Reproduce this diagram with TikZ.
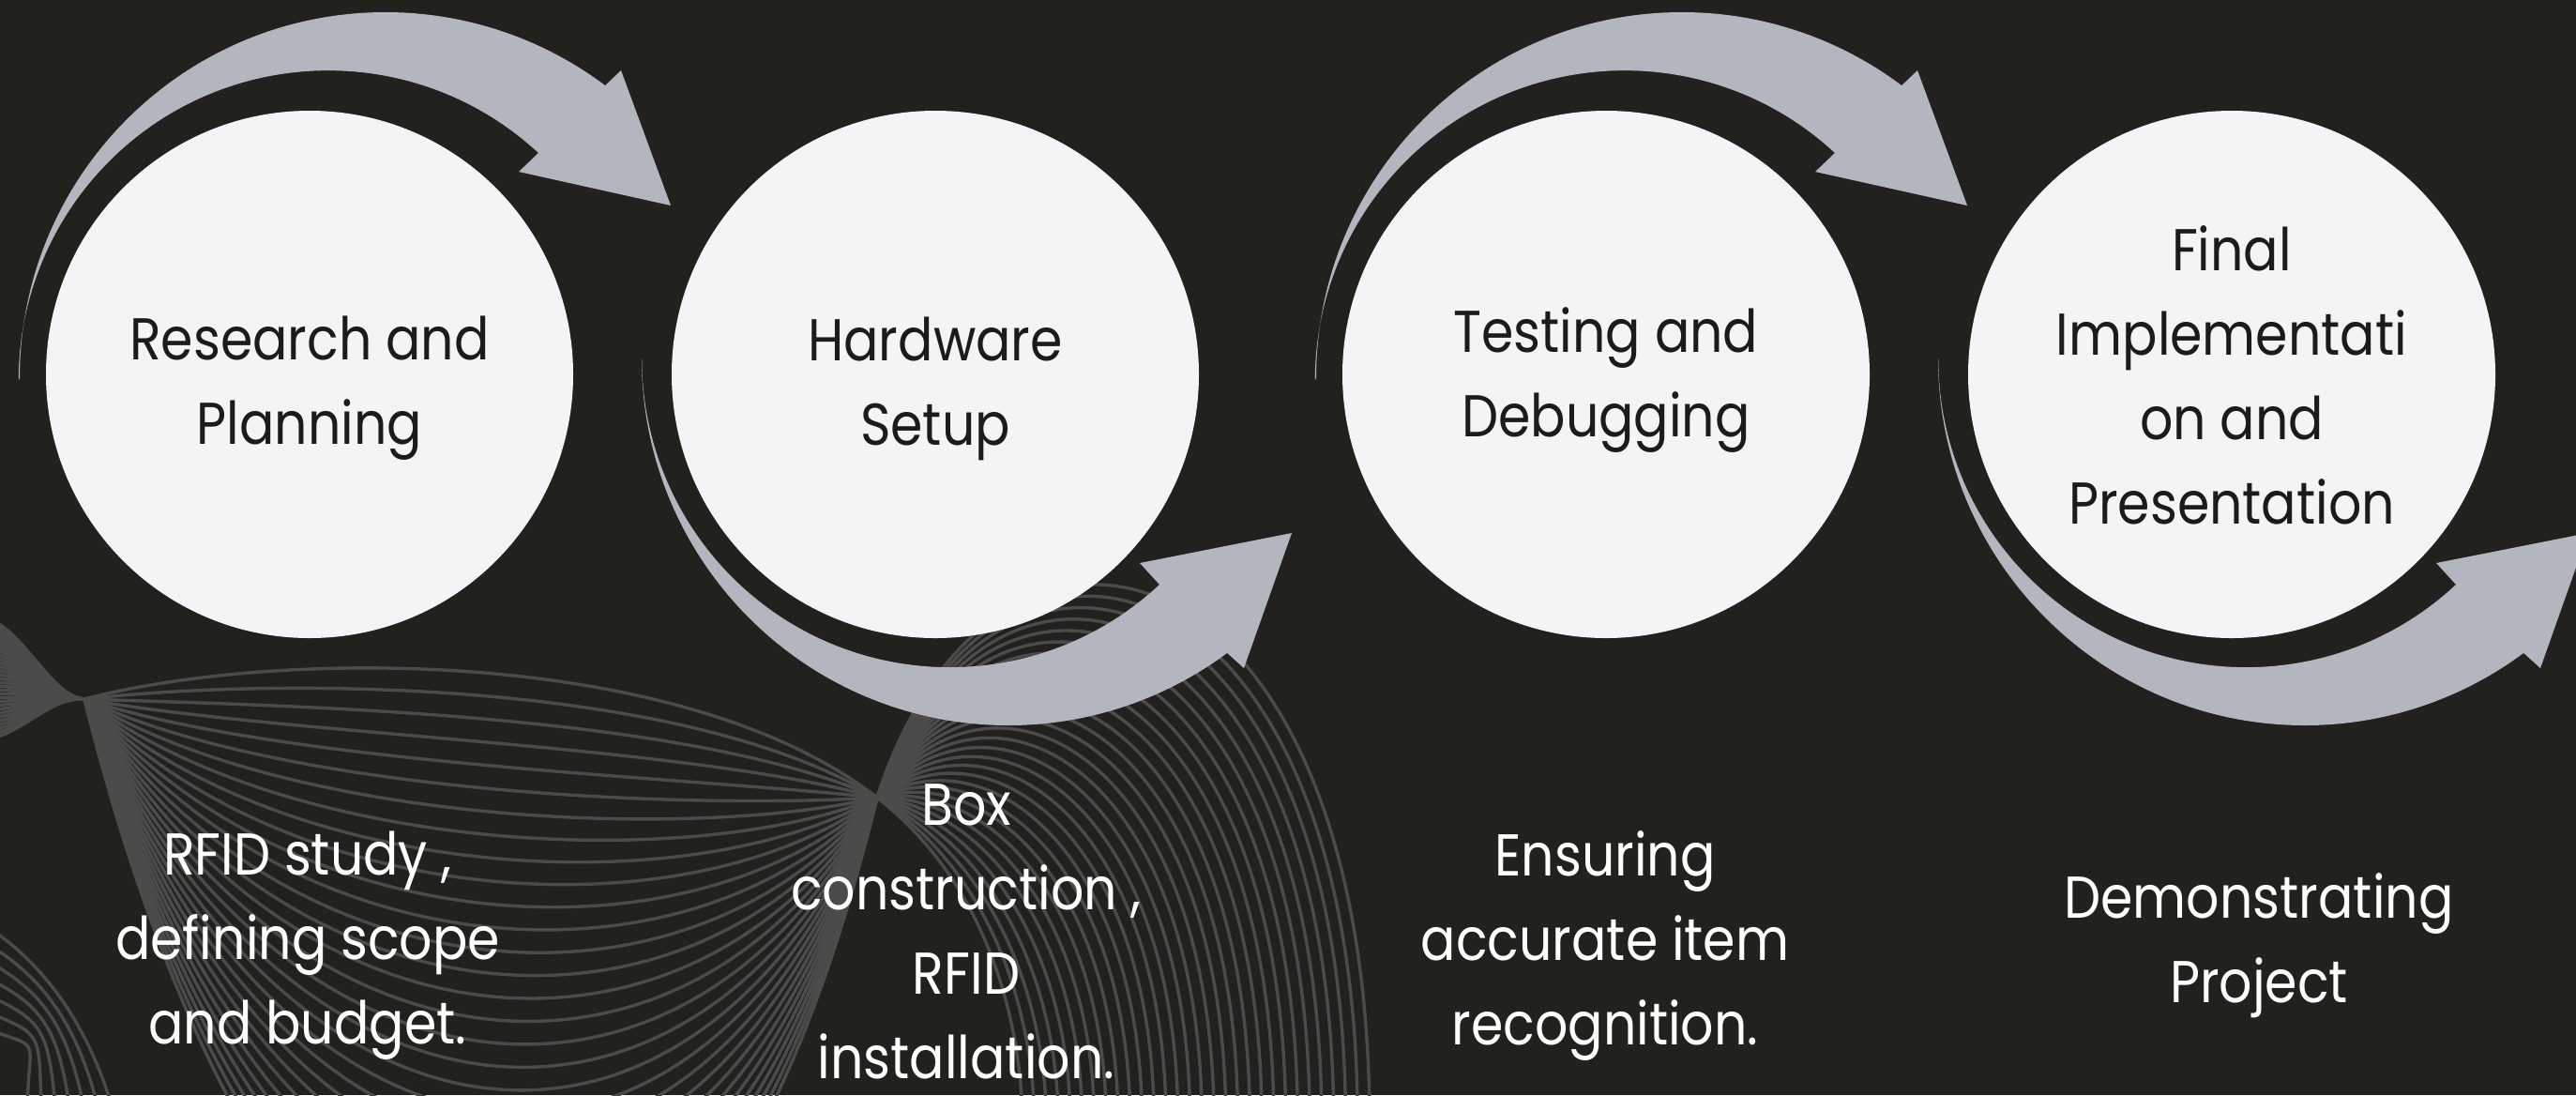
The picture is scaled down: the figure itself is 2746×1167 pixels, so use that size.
\documentclass[tikz,border=0pt]{standalone}
\usepackage{fontspec}
\setmainfont{Poppins}[FakeStretch=0.88]
\usetikzlibrary{calc}

\definecolor{bgdark}{HTML}{22211E}
\definecolor{discfill}{HTML}{F3F4F6}
\definecolor{arrowgrey}{HTML}{B3B6BE}
\definecolor{wavegrey}{HTML}{4C4B49}
\definecolor{inkdark}{HTML}{1B1B1B}

\tikzset{
  disc/.style={circle, fill=discfill, minimum size=56.2mm, inner sep=0pt},
  disctext/.style={align=center, text=inkdark, font=\fontsize{17.9pt}{25.6pt}\selectfont},
  steptext/.style={align=center, text=white, font=\fontsize{17.9pt}{25.6pt}\selectfont},
  wave/.style={wavegrey, line width=0.34mm}
}

\begin{document}
\begin{tikzpicture}[x=0.1mm,y=-0.1mm]
\useasboundingbox (0,0) rectangle (2746,1167);
\fill[bgdark] (0,0) rectangle (2746,1167);
\clip (0,0) rectangle (2746,1167);

% wavy ribbon behind everything
\coordinate (pinchA) at (90,745);
\coordinate (pinchB) at (935,850);
\foreach \i in {0,...,29}{
  \pgfmathsetmacro\s{\i/29}
  \pgfmathsetmacro\ya{655+135*\s}
  \pgfmathsetmacro\yb{690+900*\s}
  \pgfmathsetmacro\yc{690+1000*\s}
  \pgfmathsetmacro\yd{850+0.6*(160-800*\s)}
  \pgfmathsetmacro\xe{1090+370*\s}
  \pgfmathsetmacro\ye{1100-540*\s}
  \draw[wave] (-30,\ya) .. controls (20,\ya) and (50,742) .. (pinchA)
    .. controls (300,\yb) and (730,\yc) .. (pinchB)
    .. controls (1058,\yd) and (\xe,\ye) .. (\xe,1200);
}
% loose strands in the lower left corner
\foreach \k in {0,...,6}
  \draw[wave] (-10,{990+18*\k}) .. controls (50,{1030+15*\k}) and ({100-12*\k},1100) .. ({125-16*\k},1200);

% the four phases
\node[disc] (c1) at (330,399) {};
\node[disc] (c2) at (997,399) {};
\node[disc] (c3) at (1712,399) {};
\node[disc] (c4) at (2379,399) {};

% curved arrows over the top
\foreach \c in {c1,c3}
  \fill[arrowgrey, shift={(\c.center)}] (-309,4) arc[start angle=180, end angle=306.9, radius=390]
    -- (332,-324) -- (385,-180) -- (223,-216) -- (244,-236)
    arc[start angle=312.8, end angle=180, radius=330] -- cycle;
% curved arrows underneath
\foreach \c in {c2,c4}
  \fill[arrowgrey, shift={(\c.center)}] (-313,-17) arc[start angle=180, end angle=53.4, radius=391]
    -- (329,313) -- (380,169) -- (218,201) -- (239,224)
    arc[start angle=47, end angle=180, radius=328] -- cycle;

\node[disctext] (t1) at ($(c1)+(0,15)$) {Research and\\Planning};
\node[disctext] (t2) at ($(c2)+(0,15)$) {Hardware\\Setup};
\node[disctext] (t3) at ($(c3)+(0,6)$) {Testing and\\Debugging};
\node[disctext] (t4) at ($(c4)+(0,1)$) {Final\\Implementati\\on and\\Presentation};

\node[steptext] (d1) at (328,1008) {RFID study ,\\defining scope\\and budget.};
\node[steptext] (d2) at (1030,993) {Box\\construction ,\\RFID\\installation.};
\node[steptext] (d3) at (1711,1008) {Ensuring\\accurate item\\recognition.};
\node[steptext] (d4) at (2408,1008) {Demonstrating\\Project};
\end{tikzpicture}
\end{document}
